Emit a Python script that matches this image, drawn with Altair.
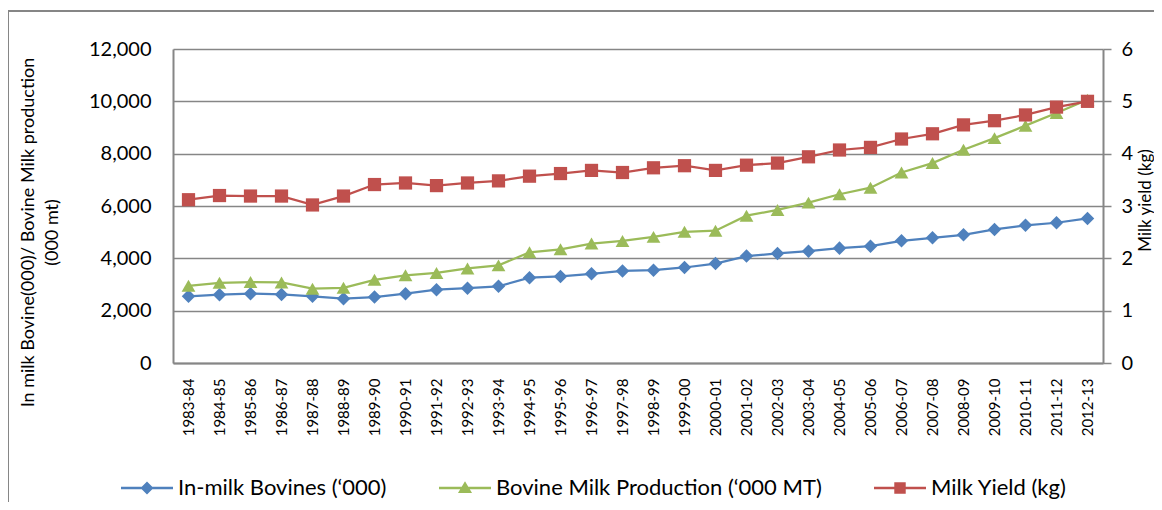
import json
import altair as alt
import pandas as pd

periods = ["1983-84", "1984-85", "1985-86", "1986-87", "1987-88", "1988-89", "1989-90",
           "1990-91", "1991-92", "1992-93", "1993-94", "1994-95", "1995-96", "1996-97",
           "1997-98", "1998-99", "1999-00", "2000-01", "2001-02", "2002-03", "2003-04",
           "2004-05", "2005-06", "2006-07", "2007-08", "2008-09", "2009-10", "2010-11",
           "2011-12", "2012-13"]

bovines = [2550, 2610, 2650, 2620, 2550, 2460, 2520, 2650, 2800, 2860, 2930, 3260, 3310,
           3410, 3520, 3545, 3650, 3800, 4085, 4185, 4275, 4390, 4465, 4670, 4785, 4900,
           5105, 5260, 5360, 5525]

production = [2950, 3065, 3095, 3080, 2840, 2875, 3180, 3350, 3440, 3615, 3730, 4230, 4345,
              4565, 4665, 4820, 5015, 5055, 5630, 5850, 6130, 6450, 6700, 7280, 7640, 8150,
              8595, 9070, 9555, 10060]

milk_yield = [3.12, 3.20, 3.19, 3.19, 3.02, 3.19, 3.41, 3.44, 3.39, 3.44, 3.48, 3.57, 3.62,
              3.68, 3.64, 3.73, 3.77, 3.68, 3.78, 3.82, 3.94, 4.07, 4.12, 4.28, 4.38, 4.55,
              4.63, 4.74, 4.89, 5.00]

s_bov = "In-milk Bovines (‘000)"
s_prod = "Bovine Milk Production (‘000 MT)"
s_yield = "Milk Yield (kg)"
series_names = [s_bov, s_prod, s_yield]
series_colors = ["#4F81BD", "#9BBB59", "#C0504D"]
# marker scales use a different domain order (so they stay out of the colour legend)
marker_domain = [s_prod, s_bov, s_yield]
marker_shapes = ["triangle-up", "diamond", "square"]
marker_sizes = [190, 175, 135]
# legend glyphs: a short line segment (as a thin filled bar) plus the series marker
legend_paths = [
    "M-1,-0.045H1V0.045H-1ZM0,-0.25L0.25,0L0,0.25L-0.25,0Z",
    "M-1,-0.045H1V0.045H-1ZM0,-0.26L0.27,0.19L-0.27,0.19Z",
    "M-1,-0.045H1V0.045H-1ZM-0.22,-0.22H0.22V0.22H-0.22Z",
]

left_df = pd.DataFrame({
    "period": periods * 2,
    "series": [s_bov] * len(periods) + [s_prod] * len(periods),
    "value": bovines + production,
})
right_df = pd.DataFrame({
    "period": periods,
    "series": [s_yield] * len(periods),
    "value": milk_yield,
})


def ternary(values):
    expr = json.dumps(values[-1], ensure_ascii=False)
    for name, v in reversed(list(zip(series_names[:-1], values[:-1]))):
        expr = f"datum.value === {json.dumps(name, ensure_ascii=False)} ? {json.dumps(v)} : ({expr})"
    return expr


GRAY = "#868686"
FONT = "Lato"

legend = alt.Legend(
    orient="none", legendX=-52, legendY=413, direction="horizontal", title=None,
    symbolSize=2704, symbolStrokeWidth=0,
    symbolType={"expr": ternary(legend_paths)},
    symbolFillColor={"expr": ternary(series_colors)},
    symbolStrokeColor={"expr": ternary(series_colors)},
    symbolOpacity=1,
    labelFont=FONT, labelFontSize=22, labelColor="#000", labelLimit=500,
    labelOffset=5, columnPadding=52, padding=0,
)

color_scale = alt.Scale(domain=series_names, range=series_colors)
shape_scale = alt.Scale(domain=marker_domain, range=marker_shapes)
size_scale = alt.Scale(domain=marker_domain, range=marker_sizes)

x_enc = alt.X("period:N", sort=periods, scale=alt.Scale(type="point", padding=0.5),
              axis=alt.Axis(labelAngle=270, labelFont=FONT, labelFontSize=15, labelColor="#000",
                            labelPadding=15, ticks=False, tickSize=0, domainColor=GRAY,
                            domainWidth=2, grid=False, title=None))

y_left = alt.Y("value:Q", scale=alt.Scale(domain=[0, 12000], nice=False),
               axis=alt.Axis(values=[0, 2000, 4000, 6000, 8000, 10000, 12000], format=",.0f",
                             labelFont=FONT, labelFontSize=20, labelColor="#000",
                             labelPadding=22, ticks=False, tickSize=0,
                             domainColor=GRAY, domainWidth=2,
                             gridColor=GRAY, gridWidth=1.5,
                             title=["In milk Bovine(000)/ Bovine Milk production", "(000 mt)"],
                             titleFont=FONT, titleFontSize=18, titleFontWeight="normal",
                             titleColor="#000", titleAngle=270, titleX=-140, titleY=183,
                             titleAlign="center", titleBaseline="alphabetic",
                             titleLineHeight=24))

y_right = alt.Y("value:Q", scale=alt.Scale(domain=[0, 6], nice=False),
                axis=alt.Axis(orient="right", values=[0, 1, 2, 3, 4, 5, 6], format=".0f",
                              labelFont=FONT, labelFontSize=20, labelColor="#000",
                              labelPadding=10, labelAlign="left", ticks=True, tickSize=8,
                              tickColor=GRAY, tickWidth=1.5, grid=False,
                              domainColor=GRAY, domainWidth=2,
                              title="Milk yield (kg)", titleFont=FONT, titleFontSize=17,
                              titleFontWeight="normal", titleColor="#000", titleAngle=270,
                              titleX=47, titleY=151, titleAlign="center",
                              titleBaseline="alphabetic"))

left_line = alt.Chart(left_df).mark_line(strokeWidth=2.25).encode(
    x=x_enc, y=y_left, color=alt.Color("series:N", scale=color_scale, legend=legend),
    detail="series:N")
left_pts = alt.Chart(left_df).mark_point(filled=True, opacity=1).encode(
    x=x_enc, y=y_left,
    color=alt.Color("series:N", scale=color_scale, legend=None),
    shape=alt.Shape("series:N", scale=shape_scale, legend=None),
    size=alt.Size("series:N", scale=size_scale, legend=None))

right_line = alt.Chart(right_df).mark_line(strokeWidth=2.25).encode(
    x=x_enc, y=y_right, color=alt.Color("series:N", scale=color_scale, legend=None))
right_pts = alt.Chart(right_df).mark_point(filled=True, opacity=1).encode(
    x=x_enc, y=y_right,
    color=alt.Color("series:N", scale=color_scale, legend=None),
    shape=alt.Shape("series:N", scale=shape_scale, legend=None),
    size=alt.Size("series:N", scale=size_scale, legend=None))

frame = alt.Chart(pd.DataFrame({"f": [0]})).mark_rect(
    fillOpacity=0, stroke=GRAY, strokeWidth=2).encode(
    x=alt.value(-165), x2=alt.value(1200), y=alt.value(-38), y2=alt.value(700))

left = alt.layer(left_line, left_pts)
right = alt.layer(right_line, right_pts)

chart = alt.layer(frame, left, right).resolve_scale(y="independent").properties(
    width=930, height=314,
    padding={"left": 165, "top": 41, "right": 51, "bottom": 139},
    autosize="none",
    background="white",
).configure_view(strokeWidth=0)

chart.save("out.html", embed_options={"renderer": "svg", "actions": False})
